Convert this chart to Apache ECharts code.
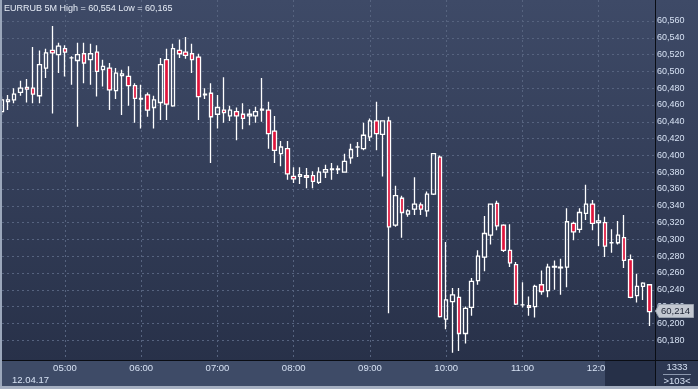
<!DOCTYPE html>
<html>
<head>
<meta charset="utf-8">
<script src="https://cdn.jsdelivr.net/npm/echarts@6/dist/echarts.min.js"></script>
<style>html,body{margin:0;padding:0;background:#27304a;}#c{width:698px;height:389px;}</style>
</head>
<body>
<div id="c"></div>
<script>
// 5-minute bars, 04:10 .. 12:40
const categories = [];
for (let m = 4 * 60 + 10; m <= 12 * 60 + 40; m += 5) {
  categories.push(String(Math.floor(m / 60)).padStart(2, '0') + ':' + String(m % 60).padStart(2, '0'));
}
const hourLabels = ['05:00', '06:00', '07:00', '08:00', '09:00', '10:00', '11:00', '12:00'];

const openVals = [60452,60464,60466,60475,60481,60480,60471,60504,60525,60520,
  60527,60516,60513,60521,60514,60523,60502,60504,60477,60495,
  60494,60483,60468,60472,60457,60463,60514,60459,60525,60523,
  60521,60517,60472,60474,60449,60454,60447,60452,60449,60447,
  60447,60454,60454,60429,60402,60408,60375,60375,60376,60376,
  60368,60380,60383,60384,60380,60397,60410,60408,60422,60441,
  60425,60441,60317,60349,60330,60336,60341,60334,60354,60398,
  60205,60226,60231,60188,60219,60251,60279,60305,60343,60317,
  60287,60270,60222,60221,60220,60246,60239,60267,60267,60267,
  60319,60312,60331,60342,60320,60320,60296,60296,60302,60276,
  60233,60244,60246];
const closeVals = [60466,60466,60473,60480,60479,60473,60508,60522,60522,60530,
  60523,60516,60520,60510,60521,60500,60506,60478,60498,60497,
  60483,60468,60467,60454,60466,60508,60461,60527,60521,60519,
  60514,60470,60473,60446,60457,60451,60454,60447,60444,60449,
  60452,60455,60426,60406,60410,60378,60372,60377,60374,60369,
  60380,60383,60384,60383,60393,60407,60410,60424,60441,60426,
  60441,60315,60352,60332,60334,60342,60336,60354,60402,60208,
  60228,60234,60188,60218,60250,60280,60307,60342,60316,60287,
  60272,60223,60222,60219,60244,60238,60267,60268,60266,60321,
  60309,60332,60342,60319,60322,60292,60296,60305,60275,60231,
  60244,60248,60214];
const lowVals = [60448,60454,60462,60471,60463,60462,60462,60492,60450,60498,
  60494,60484,60434,60486,60484,60470,60482,60454,60467,60448,
  60459,60439,60432,60446,60432,60442,60442,60458,60516,60515,
  60498,60442,60467,60391,60432,60439,60441,60418,60431,60436,
  60439,60440,60408,60391,60387,60371,60367,60366,60361,60361,
  60366,60373,60371,60378,60380,60390,60398,60406,60417,60406,
  60375,60212,60315,60302,60327,60329,60329,60327,60353,60207,
  60193,60165,60167,60176,60209,60246,60262,60294,60311,60285,
  60267,60222,60219,60209,60207,60234,60231,60240,60234,60243,
  60299,60308,60323,60311,60292,60279,60284,60294,60266,60230,
  60225,60228,60197];
const highVals = [60470,60472,60480,60489,60491,60529,60525,60527,60554,60534,
  60531,60518,60534,60534,60533,60531,60514,60510,60504,60502,
  60506,60486,60484,60475,60471,60516,60527,60533,60538,60541,
  60533,60521,60480,60486,60472,60493,60459,60457,60462,60455,
  60458,60492,60464,60447,60417,60417,60386,60386,60385,60381,
  60386,60389,60391,60388,60402,60414,60416,60439,60444,60464,
  60441,60446,60364,60352,60336,60374,60344,60357,60402,60400,
  60297,60242,60242,60220,60254,60287,60328,60342,60346,60318,
  60318,60273,60249,60232,60246,60263,60271,60275,60277,60337,
  60321,60337,60365,60347,60330,60327,60312,60322,60329,60282,
  60259,60249,60246];

const lastPrice = '60,214';
const titleText = 'EURRUB 5M High = 60,554 Low = 60,165';
const dateText = '12.04.17';
const counterTop = '1333';
const counterBottom = '>103<';

const candleData = categories.map((c, i) => [openVals[i], closeVals[i], lowVals[i], highVals[i]]);

const FONT = '"Liberation Sans", Arial, sans-serif';
const LABEL = '#d6e1f3';
const GRID = '#56637f';
const isHour = (idx) => hourLabels.indexOf(categories[idx]) >= 0;
const fmt = (v) => Math.floor(v / 1000) + ',' + String(Math.round(v % 1000)).padStart(3, '0');

const chart = echarts.init(document.getElementById('c'), null, {renderer: 'canvas'});
chart.setOption({
  animation: false,
  backgroundColor: 'transparent',
  grid: [
    {left: 1.46, width: 648.1, top: 0, height: 360, containLabel: false},
    {left: 2, width: 653, top: 4.2, height: 352.8, containLabel: false}
  ],
  xAxis: [
    {
      type: 'category', gridIndex: 0, data: categories, boundaryGap: false,
      axisLine: {show: false}, axisTick: {show: false},
      axisLabel: {interval: (idx) => isHour(idx), color: LABEL, fontSize: 9.5, fontFamily: FONT, margin: 3},
      splitLine: {show: true, interval: (idx) => isHour(idx), lineStyle: {color: GRID, type: [2, 3], width: 1}}
    },
    {type: 'value', gridIndex: 1, min: 0, max: 1, show: false}
  ],
  yAxis: [
    {type: 'value', gridIndex: 0, min: 60156.43, max: 60585, show: false},
    {
      type: 'value', gridIndex: 1, min: 60160, max: 60580, interval: 20, position: 'right',
      axisLine: {show: false}, axisTick: {show: false},
      axisLabel: {margin: 2, color: LABEL, fontSize: 9, fontFamily: FONT, formatter: fmt, showMinLabel: false, showMaxLabel: false},
      splitLine: {show: true, showMinLine: false, showMaxLine: false, lineStyle: {color: GRID, type: [2, 3], width: 1}}
    }
  ],
  series: [{
    type: 'candlestick', xAxisIndex: 0, yAxisIndex: 0, data: candleData,
    barWidth: 4, clip: false,
    itemStyle: {color: 'rgba(0,0,0,0)', color0: '#e0143c', borderColor: '#ffffff', borderColor0: '#ffffff', borderWidth: 1.3}
  }],
  graphic: [
    {type: 'rect', z: -10, silent: true, shape: {x: 0, y: 0, width: 698, height: 361},
      style: {fill: {type: 'linear', x: 0, y: 0, x2: 0, y2: 1, colorStops: [{offset: 0, color: '#3e4a67'}, {offset: 1, color: '#283149'}]}}},
    {type: 'rect', z: -10, silent: true, shape: {x: 0, y: 361, width: 698, height: 28}, style: {fill: '#3e4b67'}},
    {type: 'rect', z: 50, silent: true, shape: {x: 605, y: 361, width: 50, height: 25}, style: {fill: '#263048'}},
    {type: 'rect', z: 50, silent: true, shape: {x: 656, y: 361, width: 42, height: 25}, style: {fill: '#2d3852'}},
    {type: 'line', z: 55, silent: true, shape: {x1: 0, y1: 360.5, x2: 698, y2: 360.5}, style: {stroke: '#0a0d14', lineWidth: 1}},
    {type: 'line', z: 55, silent: true, shape: {x1: 655.5, y1: 0, x2: 655.5, y2: 389}, style: {stroke: '#0a0d14', lineWidth: 1}},
    {type: 'line', z: 55, silent: true, shape: {x1: 663, y1: 374.5, x2: 691, y2: 374.5}, style: {stroke: '#8c98ae', lineWidth: 1}},
    {type: 'text', z: 56, silent: true, style: {x: 677, y: 367, text: counterTop, fill: LABEL, font: '9.5px ' + FONT, align: 'center', verticalAlign: 'middle'}},
    {type: 'text', z: 56, silent: true, style: {x: 677, y: 381, text: counterBottom, fill: LABEL, font: '9.5px ' + FONT, align: 'center', verticalAlign: 'middle'}},
    {type: 'polygon', z: 56, silent: true, shape: {points: [[655.5, 311], [659, 304.5], [693.5, 304.5], [693.5, 317.5], [659, 317.5]]},
      style: {fill: '#c3c8d1', stroke: '#98a0ad', lineWidth: 1}},
    {type: 'text', z: 57, silent: true, style: {x: 661, y: 311.5, text: lastPrice, fill: '#1c2233', font: '9.5px ' + FONT, align: 'left', verticalAlign: 'middle'}},
    {type: 'text', z: 57, silent: true, style: {x: 4, y: 8.5, text: titleText, fill: '#e6ecf6', font: '9px ' + FONT, align: 'left', verticalAlign: 'middle'}},
    {type: 'text', z: 57, silent: true, style: {x: 12, y: 380.5, text: dateText, fill: LABEL, font: '9.5px ' + FONT, align: 'left', verticalAlign: 'middle'}},
    {type: 'rect', z: 60, silent: true, shape: {x: 0, y: 0, width: 2, height: 389}, style: {fill: '#9ba7bb'}},
    {type: 'rect', z: 60, silent: true, shape: {x: 0, y: 386, width: 698, height: 3}, style: {fill: '#a5afc1'}}
  ]
});
</script>
</body>
</html>
